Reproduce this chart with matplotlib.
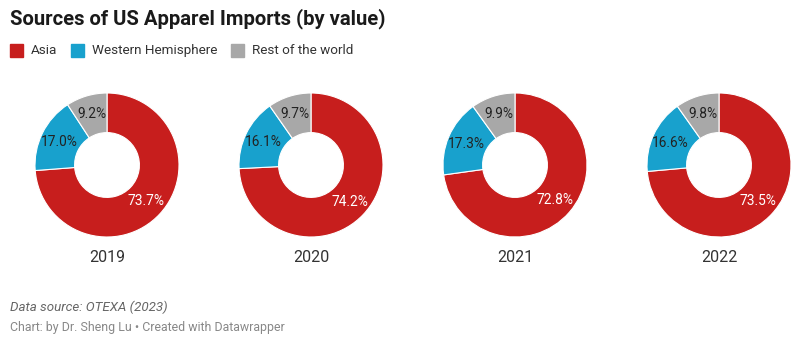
import numpy as np
import matplotlib.pyplot as plt

plt.rcParams['font.family'] = ['Roboto', 'DejaVu Sans']

years = ["2019", "2020", "2021", "2022"]
regions = ["Asia", "Western Hemisphere", "Rest of the world"]
asia = [73.7, 74.2, 72.8, 73.5]
western = [17.0, 16.1, 17.3, 16.6]
rest = [9.2, 9.7, 9.9, 9.8]
colors = ["#c71e1d", "#18a1cd", "#a8a8a8"]
label_colors = ["white", "#222222", "#222222"]

W, H = 802, 341
fig = plt.figure(figsize=(W / 100, H / 100), dpi=100)

fig.text(10 / W, 1 - 19 / H, "Sources of US Apparel Imports (by value)",
         fontsize=14.6, fontweight="bold", color="#1a1a1a", va="center")

# legend
leg_x = [10, 71, 231]
for x, name, c in zip(leg_x, regions, colors):
    fig.patches.append(plt.Rectangle((x / W, 1 - 57 / H), 13 / W, 13 / H,
                                     transform=fig.transFigure, color=c))
    fig.text((x + 21) / W, 1 - 50.5 / H, name, fontsize=9.7,
             color="#333333", va="center")

centers = [107, 311, 515, 719]
cy = 165
r = 72
for i, yr in enumerate(years):
    ax = fig.add_axes([(centers[i] - r) / W, 1 - (cy + r) / H, 2 * r / W, 2 * r / H])
    vals = [asia[i], western[i], rest[i]]
    ax.pie(vals, colors=colors, startangle=90, counterclock=False, radius=1,
           wedgeprops=dict(width=0.55, edgecolor="white", linewidth=0.8))
    start = 90
    for v, lc in zip(vals, label_colors):
        mid = start - v / 100 * 360 / 2
        start -= v / 100 * 360
        ax.text(0.74 * np.cos(np.radians(mid)), 0.74 * np.sin(np.radians(mid)),
                f"{v:.1f}%", ha="center", va="center", fontsize=9.9, color=lc)
    ax.set_xlim(-1, 1)
    ax.set_ylim(-1, 1)
    ax.set_aspect("equal")
    ax.axis("off")
    fig.text(centers[i] / W, 1 - 258 / H, yr, ha="center", va="center",
             fontsize=11.5, color="#333333")

fig.text(10 / W, 1 - 307 / H, "Data source: OTEXA (2023)", fontsize=9.6,
         style="italic", color="#666666", va="center")
fig.text(10 / W, 1 - 327 / H, "Chart: by Dr. Sheng Lu \u2022 Created with Datawrapper",
         fontsize=8.9, color="#888888", va="center")

fig.savefig("out.png", dpi=100)
